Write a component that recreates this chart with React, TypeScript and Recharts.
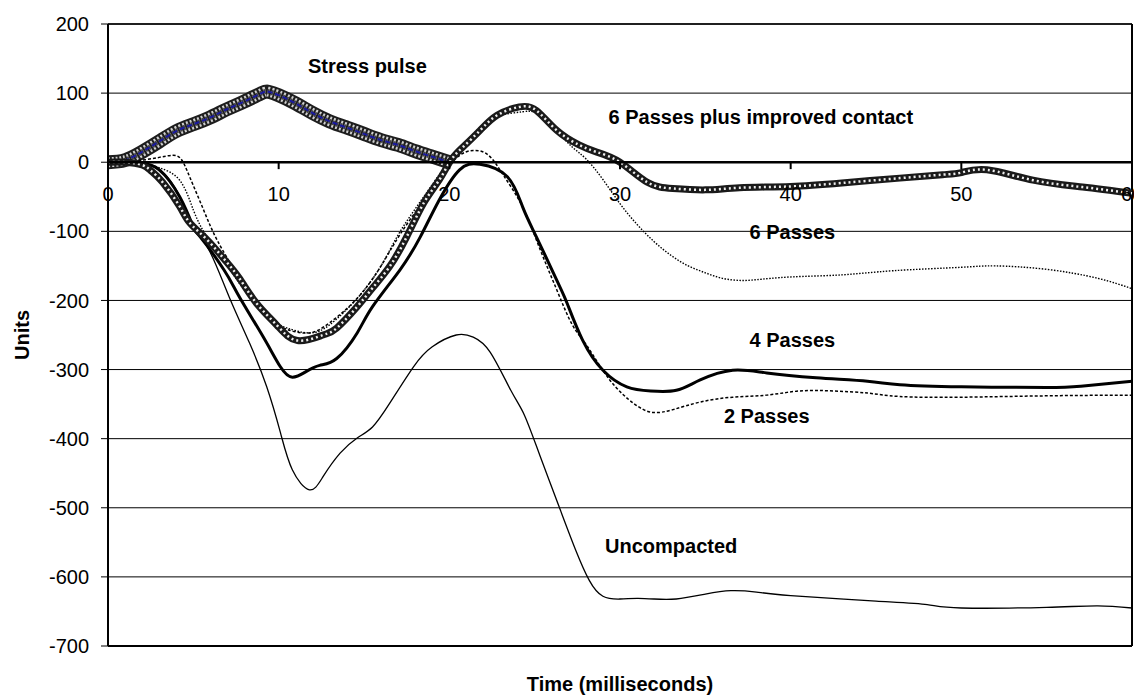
import {
  CartesianGrid,
  Line,
  LineChart,
  ReferenceDot,
  ReferenceLine,
  XAxis,
  YAxis,
} from "recharts";

/**
 * Pressure response traces after compaction passes, with the stress pulse
 * on top. Time in ms on x, response "Units" on y. The x axis sits on the
 * zero line, so ticks and labels are drawn as reference marks there.
 */

const FONT = "'Liberation Sans', Arial, Helvetica, sans-serif";

const yTicks = [200, 100, 0, -100, -200, -300, -400, -500, -600, -700];
const xTicks = [0, 10, 20, 30, 40, 50, 60];

// [time ms, value]
const stressPulse: [number, number][] = [
  [0, 0], [1, 3], [2, 15], [3, 30], [4, 45], [5, 55], [6, 65], [7, 77],
  [8, 88], [9, 100], [9.4, 102], [10, 97], [11, 85], [12, 71], [13, 59],
  [14, 50], [15, 41], [16, 32], [17, 25], [18, 16], [19, 8], [20, 0],
];

const improvedContact: [number, number][] = [
  [0, 0], [1, 0], [2, -4], [2.5, -12], [3.2, -29], [4.2, -64], [4.8, -88],
  [5.8, -112], [6.8, -140], [7.7, -168], [8.7, -204], [9.9, -236],
  [11.1, -258], [12.6, -250], [13.4, -240], [14.6, -209], [15.5, -182],
  [16.5, -151], [17.5, -108], [18.5, -59], [19.4, -26], [20.1, 3],
  [20.8, 22], [21.8, 46], [22.8, 68], [24.1, 80], [25.1, 75], [26.3, 46],
  [27.6, 25], [28.6, 15], [30, 0], [31.6, -29], [33.1, -38], [35, -40],
  [37, -37], [40, -35], [43, -30], [46.4, -23], [48.9, -18], [50, -15],
  [51.5, -11], [54.2, -26], [57.1, -36], [60, -45],
];

const sixPasses: [number, number][] = [
  [0, 0], [1, 0], [2, -1], [3, -8], [4.2, -26], [5, -69], [5.8, -108],
  [7, -150], [8, -185], [9.5, -225], [10.5, -240], [11.8, -247], [13, -235],
  [14.6, -197], [16, -150], [17.1, -101], [18.5, -50], [19.5, -15],
  [20.3, 10], [21, 30], [22, 55], [23, 68], [24.3, 73], [25.2, 70],
  [26.3, 45], [27.2, 22], [28, 5], [29, -25], [30, -60], [31, -90],
  [32, -115], [33, -135], [34, -150], [35, -160], [36, -168], [37, -171],
  [38, -170], [40, -166], [43, -163], [46, -157], [50, -152], [52, -150],
  [55, -155], [58, -168], [60, -183],
];

const fourPasses: [number, number][] = [
  [0, 0], [1, 0], [2, -2], [3, -11], [4.2, -50], [5, -94], [5.4, -108],
  [6.8, -156], [7.7, -195], [9.1, -253], [10.1, -296], [10.8, -311],
  [11.6, -303], [12.4, -294], [13.4, -284], [14.6, -247], [15.5, -209],
  [17.1, -156], [18.3, -108], [19.4, -55], [20.6, -11], [21.8, -3],
  [23.4, -21], [24.3, -65], [25.1, -108], [26.3, -171], [26.9, -204],
  [27.8, -257], [29, -301], [30.4, -325], [31.8, -331], [33.3, -330],
  [34.7, -315], [36.6, -301], [38.6, -305], [41.5, -312], [44.5, -317],
  [46.4, -322], [50, -325], [55, -326], [57, -324], [60, -317],
];

const twoPasses: [number, number][] = [
  [0, 0], [1, 1], [2, 3], [3, 7], [3.8, 10], [4.3, 4], [4.8, -22],
  [5.6, -69], [6.4, -113], [7.5, -160], [8.5, -200], [9.5, -228],
  [10.5, -242], [11.8, -247], [13, -232], [14.6, -197], [16, -150],
  [17.1, -105], [18.5, -55], [19.5, -20], [20.5, 8], [21.4, 17], [22.3, 10],
  [23.2, -20], [24.3, -65], [25.3, -125], [26.3, -185], [27.2, -235],
  [28.1, -267], [29.4, -315], [30.8, -349], [31.9, -362], [33.1, -358],
  [34.7, -347], [36.6, -340], [38.6, -337], [40.5, -331], [42.5, -331],
  [44.5, -334], [46.4, -339], [50, -340], [55, -338], [60, -337],
];

const uncompacted: [number, number][] = [
  [0, 0], [1, 0], [2, -2], [2.9, -8], [4, -40], [5, -90], [6, -131],
  [7.1, -195], [8.3, -262], [9.3, -325], [10.1, -391], [10.8, -445],
  [11.8, -474], [12.6, -455], [13.6, -421], [14.6, -399], [15.5, -383],
  [16.5, -349], [17.9, -296], [19, -267], [20.4, -250], [21.4, -253],
  [22.4, -275], [23.6, -330], [24.4, -366], [25.3, -424], [26.5, -503],
  [27.4, -561], [28.2, -605], [29, -628], [30, -632], [31, -631],
  [32, -632], [33.3, -632], [35, -625], [36.5, -620], [38, -622],
  [40, -627], [45, -635], [48, -640], [50, -645], [55, -644], [58, -642],
  [60, -645],
];

const toPoints = (pairs: [number, number][]) =>
  pairs.map(([t, v]) => ({ t, v }));

// annotation text, centred at (t, v)
const notes = [
  { text: "Stress pulse", t: 15.2, v: 139 },
  { text: "6 Passes plus improved contact", t: 38.25, v: 65 },
  { text: "6 Passes", t: 40.1, v: -101 },
  { text: "4 Passes", t: 40.1, v: -257 },
  { text: "2 Passes", t: 38.6, v: -367 },
  { text: "Uncompacted", t: 33, v: -555 },
];

const YTitle = ({ viewBox }: any) => {
  const cx = viewBox.x + 14;
  const cy = viewBox.y + viewBox.height / 2;
  return (
    <text
      x={cx}
      y={cy}
      transform={`rotate(-90 ${cx} ${cy})`}
      textAnchor="middle"
      dominantBaseline="central"
      fontFamily={FONT}
      fontSize={20}
      fontWeight={700}
      fill="#000"
    >
      Units
    </text>
  );
};

const XTitle = ({ viewBox }: any) => (
  <text
    x={viewBox.x + viewBox.width / 2}
    y={viewBox.y + 45}
    textAnchor="middle"
    fontFamily={FONT}
    fontSize={20}
    fontWeight={700}
    fill="#000"
  >
    Time (milliseconds)
  </text>
);

const CURVE = "natural" as const;

export default function App() {
  const pulse = toPoints(stressPulse);
  const contact = toPoints(improvedContact);

  return (
    <LineChart
      width={1134}
      height={687}
      margin={{ top: 16, right: 10, bottom: 0, left: 0 }}
      style={{ fontFamily: FONT }}
    >
      <CartesianGrid horizontal vertical={false} stroke="#000" strokeWidth={1} />
      <XAxis
        dataKey="t"
        type="number"
        domain={[0, 60]}
        ticks={xTicks}
        tick={false}
        tickLine={false}
        axisLine={{ stroke: "#000", strokeWidth: 2 }}
        height={49}
        allowDuplicatedCategory={false}
        label={<XTitle />}
      />
      <YAxis
        dataKey="v"
        type="number"
        domain={[-700, 200]}
        ticks={yTicks}
        interval={0}
        width={100}
        tickSize={7}
        tickMargin={12}
        tickLine={{ stroke: "#000" }}
        axisLine={{ stroke: "#000", strokeWidth: 2 }}
        tick={{ fill: "#000", fontSize: 20, fontFamily: FONT }}
        label={<YTitle />}
      />
      <ReferenceLine y={200} stroke="#000" strokeWidth={1.5} />
      <ReferenceLine x={60} stroke="#000" strokeWidth={2} />

      {/* stress pulse: wide band of diamond markers with blue line */}
      <Line data={pulse} dataKey="v" type={CURVE} stroke="#1e1e1e" strokeWidth={14} dot={false} isAnimationActive={false} />
      <Line data={pulse} dataKey="v" type={CURVE} stroke="#d0d0d0" strokeWidth={10} strokeDasharray="2 2" dot={false} isAnimationActive={false} />
      <Line data={pulse} dataKey="v" type={CURVE} stroke="#444" strokeWidth={5} strokeDasharray="2 2" dot={false} isAnimationActive={false} />
      <Line data={pulse} dataKey="v" type={CURVE} stroke="#1a1aa0" strokeWidth={2} strokeDasharray="5 3" dot={false} isAnimationActive={false} />

      <Line data={toPoints(uncompacted)} dataKey="v" type={CURVE} stroke="#000" strokeWidth={1.3} dot={false} isAnimationActive={false} />
      <Line data={toPoints(twoPasses)} dataKey="v" type={CURVE} stroke="#000" strokeWidth={1.5} strokeDasharray="3 2" dot={false} isAnimationActive={false} />
      <Line data={toPoints(fourPasses)} dataKey="v" type={CURVE} stroke="#000" strokeWidth={3} dot={false} isAnimationActive={false} />
      <Line data={toPoints(sixPasses)} dataKey="v" type={CURVE} stroke="#000" strokeWidth={1.4} strokeDasharray="1.5 1.5" dot={false} isAnimationActive={false} />

      {/* 6 passes plus improved contact: chain of hollow squares */}
      <Line data={contact} dataKey="v" type={CURVE} stroke="#1a1a1a" strokeWidth={7} dot={false} isAnimationActive={false} />
      <Line data={contact} dataKey="v" type={CURVE} stroke="#eee" strokeWidth={2.5} strokeDasharray="2 3" dot={false} isAnimationActive={false} />

      {/* x axis on the zero line */}
      <ReferenceLine y={0} stroke="#000" strokeWidth={2.5} />
      {xTicks.map((t) => (
        <ReferenceLine
          key={t}
          segment={[{ x: t, y: 0 }, { x: t, y: -10 }]}
          stroke="#000"
          strokeWidth={2}
          label={{ value: String(t), position: "bottom", offset: 18, fill: "#000", fontSize: 20, fontFamily: FONT }}
        />
      ))}

      {notes.map((n) => (
        <ReferenceDot
          key={n.text}
          x={n.t}
          y={n.v}
          r={0}
          fill="none"
          stroke="none"
          label={{ value: n.text, position: "center", fill: "#000", fontSize: 20, fontWeight: 700, fontFamily: FONT }}
        />
      ))}
    </LineChart>
  );
}
